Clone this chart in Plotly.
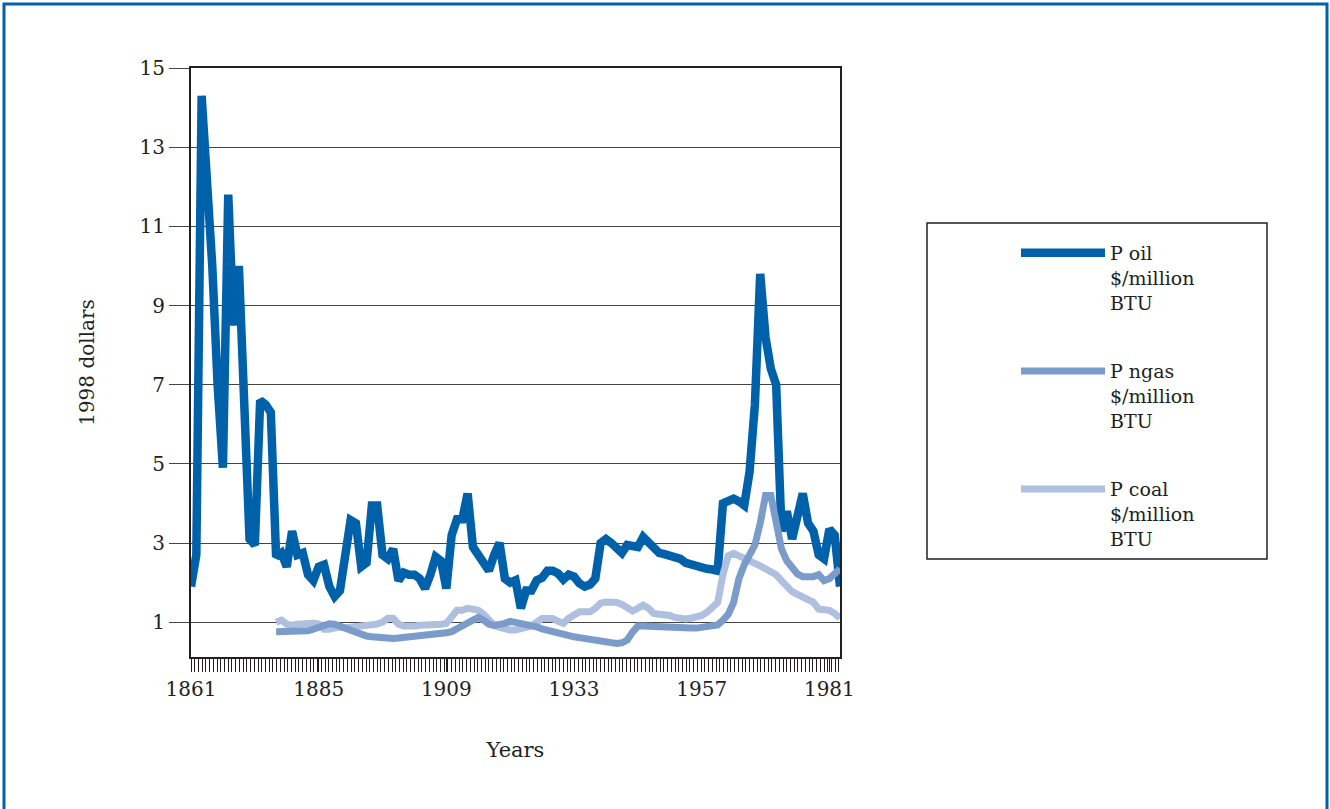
import plotly.graph_objects as go

years = list(range(1861, 1984))

oil = [1.9, 2.7, 14.3, 12.2, 10.0, 7.0, 4.9, 11.8, 8.5, 10.0,
       6.5, 3.1, 2.95, 6.6, 6.5, 6.3, 2.65, 2.75, 2.4, 3.3,
       2.7, 2.75, 2.2, 2.05, 2.4, 2.45, 1.9, 1.65, 1.8, 2.6,
       3.58, 3.5, 2.4, 2.5, 3.95, 3.95, 2.7, 2.6, 2.85, 2.05,
       2.25, 2.2, 2.2, 2.1, 1.85, 2.2, 2.65, 2.55, 1.85, 3.2,
       3.6, 3.6, 4.25, 2.9, 2.7, 2.55, 2.3, 2.7, 3.0, 2.1,
       2.0, 2.06, 1.35, 1.8, 1.8, 2.06, 2.12, 2.3, 2.3, 2.23,
       2.08, 2.2, 2.15, 1.98, 1.9, 1.95, 2.1, 3.0, 3.1, 3.0,
       2.85, 2.75, 2.95, 2.95, 2.9, 3.15, 3.0, 2.85, 2.75, 2.72,
       2.69, 2.65, 2.6, 2.5, 2.45, 2.42, 2.4, 2.35, 2.33, 2.3,
       4.0, 4.08, 4.12, 4.05, 3.95, 4.8, 6.5, 9.8, 8.2, 7.4,
       7.0, 3.3, 3.8, 3.1, 3.7, 4.25, 3.5, 3.3, 2.7, 2.6,
       3.35, 3.2, 1.9]

gas_years = list(range(1877, 1984))
ngas = [0.76, 0.76, 0.76, 0.76, 0.76, 0.76, 0.78, 0.82, 0.86, 0.9,
        0.96, 0.95, 0.9, 0.83, 0.77, 0.72, 0.68, 0.65, 0.63, 0.61,
        0.6, 0.59, 0.59, 0.6, 0.61, 0.62, 0.63, 0.64, 0.66, 0.67,
        0.68, 0.7, 0.73, 0.76, 0.82, 0.9, 0.98, 1.05, 1.12, 1.05,
        0.95, 0.92, 0.93, 0.97, 1.02, 1.0, 0.98, 0.95, 0.92, 0.88,
        0.83, 0.79, 0.75, 0.71, 0.68, 0.65, 0.63, 0.61, 0.59, 0.56,
        0.53, 0.5, 0.47, 0.46, 0.46, 0.48, 0.55, 0.75, 0.9, 0.9,
        0.89, 0.88, 0.87, 0.87, 0.86, 0.86, 0.85, 0.85, 0.85, 0.85,
        0.86, 0.87, 0.9, 0.93, 1.05, 1.2, 1.5, 2.1, 2.45, 2.7,
        2.95, 3.5, 4.2, 4.2, 3.4, 2.85, 2.55, 2.38, 2.22, 2.15,
        2.13, 2.15, 2.2, 2.05, 2.1, 2.2, 2.35]

coal = [1.0, 1.05, 0.95, 0.92, 0.95, 0.97, 0.97, 0.97, 0.95, 0.82,
        0.82, 0.85, 0.88, 0.86, 0.87, 0.88, 0.88, 0.9, 0.93, 0.95,
        1.0, 1.1, 1.1, 0.95, 0.9, 0.88, 0.9, 0.92, 0.92, 0.92,
        0.93, 0.95, 0.97, 1.15, 1.3, 1.3, 1.35, 1.33, 1.3, 1.2,
        1.05, 0.92, 0.87, 0.82, 0.8, 0.8, 0.82, 0.85, 0.9, 1.0,
        1.09, 1.09, 1.09, 1.02, 0.97, 1.1, 1.2, 1.26, 1.26, 1.26,
        1.35, 1.48, 1.51, 1.51, 1.5, 1.45, 1.38, 1.28, 1.35, 1.43,
        1.35, 1.22, 1.2, 1.19, 1.17, 1.12, 1.08, 1.08, 1.1, 1.12,
        1.17, 1.25, 1.35, 1.5, 2.2, 2.68, 2.74, 2.68, 2.62, 2.58,
        2.5, 2.42, 2.35, 2.27, 2.2, 2.05, 1.9, 1.77, 1.7, 1.63,
        1.56, 1.5, 1.33, 1.3, 1.3, 1.22, 1.1]

tick_years = [1861, 1885, 1909, 1933, 1957, 1981]
y_ticks = [1, 3, 5, 7, 9, 11, 13, 15]

names = ["P oil<br>$/million<br>BTU", "P ngas<br>$/million<br>BTU",
         "P coal<br>$/million<br>BTU"]
colors = ["#0061AB", "#7B9BCB", "#AEBFE0"]

FONT = "DejaVu Serif"
TXT = "#231f20"

fig = go.Figure()
fig.add_trace(go.Scatter(x=years, y=oil, mode="lines", name=names[0],
                         line=dict(color=colors[0], width=8.5),
                         legendrank=1, legendgroup="a"))
fig.add_trace(go.Scatter(x=gas_years, y=coal, mode="lines", name=names[2],
                         line=dict(color=colors[2], width=7),
                         legendrank=3, legendgroup="c"))
fig.add_trace(go.Scatter(x=gas_years, y=ngas, mode="lines", name=names[1],
                         line=dict(color=colors[1], width=7),
                         legendrank=2, legendgroup="b"))

W, H = 1330, 809
L, R, T, B = 191, 840, 68, 657

def px(x):
    return (x - L) / (R - L)

def py(y):
    return (B - y) / (B - T)

fig.update_layout(
    width=W, height=H,
    margin=dict(l=L, r=W - R, t=T, b=H - B, autoexpand=False),
    paper_bgcolor="white", plot_bgcolor="white",
    font=dict(family=FONT, size=20, color=TXT),
    showlegend=True,
    legend=dict(x=px(1016), y=py(234), xanchor="left", yanchor="top",
                bgcolor="rgba(0,0,0,0)", borderwidth=0,
                font=dict(family=FONT, size=19, color=TXT),
                tracegroupgap=41, valign="top", itemwidth=84,
                traceorder="grouped"),
    xaxis=dict(range=[1861, 1983], tickvals=tick_years,
               ticktext=[str(t) for t in tick_years],
               ticks="outside", ticklen=13, tickcolor=TXT, tickwidth=1,
               minor=dict(dtick=0.7, tick0=1861, ticks="outside", ticklen=13,
                          tickcolor=TXT, tickwidth=1),
               showgrid=False, zeroline=False,
               showline=True, linecolor=TXT, linewidth=2, mirror=True,
               tickfont=dict(family=FONT, size=20, color=TXT),
               title=dict(text="Years", standoff=42,
                          font=dict(family=FONT, size=21, color=TXT))),
    yaxis=dict(range=[0.12, 15], tickvals=y_ticks,
               ticks="outside", ticklen=20, tickcolor="#444", tickwidth=1,
               showgrid=True, gridcolor="#444", gridwidth=1,
               zeroline=False,
               showline=True, linecolor=TXT, linewidth=2, mirror=True,
               tickfont=dict(family=FONT, size=20, color=TXT),
               title=dict(text="1998 dollars", standoff=40,
                          font=dict(family=FONT, size=20, color=TXT))),
    shapes=[
        dict(type="rect", xref="paper", yref="paper",
             x0=px(927), x1=px(1267), y0=py(559), y1=py(223),
             line=dict(color=TXT, width=1.5), fillcolor="rgba(0,0,0,0)"),
        dict(type="rect", xref="paper", yref="paper",
             x0=px(4), x1=px(1327), y0=py(830), y1=py(4),
             line=dict(color="#0061AB", width=3), fillcolor="rgba(0,0,0,0)"),
    ],
)

fig.write_html("out.html",
               config={"displayModeBar": False},
               post_script="document.body.style.margin='0';"
                           "document.body.style.overflow='hidden';")
